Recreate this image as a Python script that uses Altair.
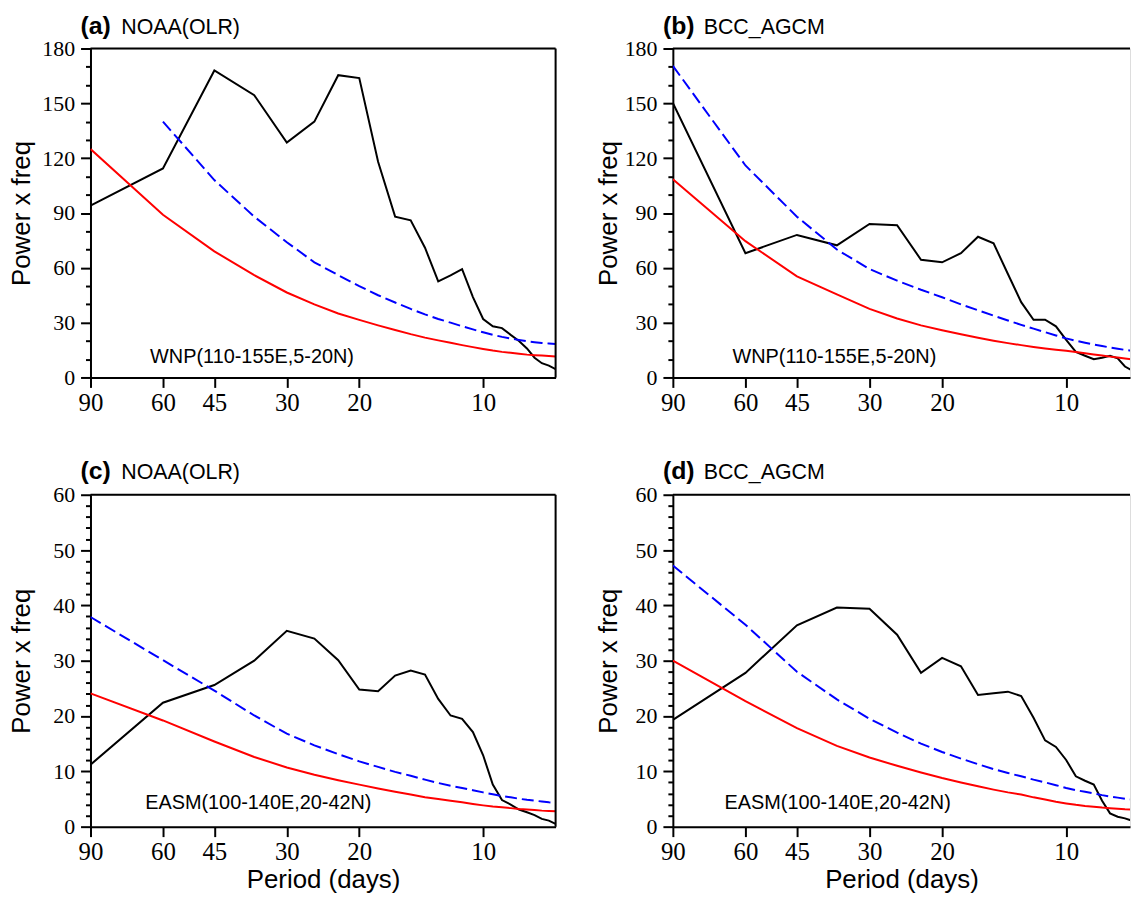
import altair as alt
import pandas as pd

# ---------------- data ----------------
PERIODS = [90, 60, 45, 36, 30, 25.714, 22.5, 20, 18, 16.364, 15, 13.846, 12.857,
           12, 11.25, 10.588, 10, 9.474, 9, 8.571, 8.182, 7.826, 7.5, 7.2, 6.923, 6.667]
X_TICKS = [90, 60, 45, 30, 20, 10]
Y_TICKS_WNP = [0, 10, 20, 30, 40, 50, 60, 70, 80, 90, 100, 110, 120, 130, 140, 150, 160, 170, 180]
Y_TICKS_EASM = [0, 2, 4, 6, 8, 10, 12, 14, 16, 18, 20, 22, 24, 26, 28, 30, 32, 34, 36, 38,
                40, 42, 44, 46, 48, 50, 52, 54, 56, 58, 60]

LETTERS = ["(a)", "(b)", "(c)", "(d)"]
MODELS = ["NOAA(OLR)", "BCC_AGCM", "NOAA(OLR)", "BCC_AGCM"]
REGIONS = ["WNP(110-155E,5-20N)", "WNP(110-155E,5-20N)",
           "EASM(100-140E,20-42N)", "EASM(100-140E,20-42N)"]

# (a) NOAA(OLR) WNP
A_SPEC = [94, 114.4, 168, 154.5, 128.5, 140, 165.4, 163.8, 118, 88, 86, 71, 52.6,
          55.8, 59.3, 44, 32, 28, 27, 23.3, 20, 15.9, 10.8, 7.8, 6.5, 4.5]
A_RED = [125, 89, 69, 56, 46.5, 40, 35, 31.5, 28.5, 26, 23.7, 21.8, 20.3,
         19, 17.7, 16.6, 15.6, 14.7, 14.0, 13.5, 13, 12.5, 12.2, 12.0, 11.8, 11.5]
A_SIG_PERIODS = [60, 45, 36, 30, 25.714, 22.5, 20, 18, 16.364, 15, 13.846, 12.857,
                 12, 11.25, 10.588, 10, 9.474, 9, 8.571, 8.182, 7.826, 7.5, 7.2, 6.923, 6.667]
A_SIG = [140, 108, 88, 74, 63, 56, 50, 45, 41, 37.5, 34.5, 32,
         30, 28, 26.3, 24.7, 23.3, 22.2, 21.3, 20.5, 19.8, 19.3, 18.9, 18.6, 18.3]

# (b) BCC_AGCM WNP
B_SPEC = [150.2, 68, 78, 72.3, 84, 83.3, 64.4, 63, 68, 77, 73.4, 56.6, 41.2,
          31.6, 31.6, 28, 20.6, 14, 11.9, 10, 10.8, 11.9, 10.5, 6, 3.8, 2.5]
B_RED = [108.5, 74.6, 55.3, 45.5, 37.5, 32.3, 28.5, 25.8, 23.6, 21.7, 20.1, 18.8, 17.7,
         16.7, 15.9, 15.2, 14.6, 13.9, 13.2, 12.6, 12.0, 11.4, 10.9, 10.4, 9.9, 9.5]
B_SIG = [170.5, 116, 88, 70, 59.3, 53, 48, 43.9, 40, 36.8, 33.8, 31.2, 28.8,
         26.7, 24.8, 23.0, 21.4, 20.1, 19.0, 18.0, 17.2, 16.4, 15.7, 15.1, 14.6, 14.2]

# (c) NOAA(OLR) EASM
C_SPEC = [11.2, 22.4, 25.6, 30.0, 35.4, 34.0, 30.1, 24.8, 24.5, 27.3, 28.2, 27.5, 23.1,
          20.1, 19.5, 17.1, 12.9, 7.6, 4.8, 4.0, 3.1, 2.6, 2.1, 1.4, 1.1, 0.5]
C_RED = [24.1, 19.2, 15.4, 12.6, 10.7, 9.4, 8.4, 7.6, 6.9, 6.3, 5.8, 5.3, 5.0,
         4.7, 4.4, 4.1, 3.85, 3.65, 3.5, 3.35, 3.2, 3.1, 3.0, 2.9, 2.85, 2.8]
C_SIG = [37.9, 30.1, 24.6, 20.1, 16.8, 14.7, 13.1, 11.8, 10.8, 9.9, 9.2, 8.5, 7.9,
         7.4, 7.0, 6.6, 6.2, 5.85, 5.55, 5.3, 5.05, 4.85, 4.7, 4.55, 4.4, 4.3]

# (d) BCC_AGCM EASM
D_SPEC = [19.3, 27.8, 36.4, 39.6, 39.4, 34.7, 27.8, 30.5, 29.0, 23.8, 24.1, 24.4, 23.6,
          19.7, 15.6, 14.4, 12.05, 9.1, 8.3, 7.6, 4.7, 2.4, 1.8, 1.5, 1.07, 0.8]
D_RED = [30.0, 22.7, 17.8, 14.6, 12.5, 11.0, 9.8, 8.8, 8.0, 7.3, 6.7, 6.2, 5.8,
         5.3, 4.9, 4.5, 4.2, 3.95, 3.75, 3.6, 3.45, 3.35, 3.25, 3.15, 3.1, 3.0]
D_SIG = [47.2, 36.5, 28.0, 23.0, 19.5, 17.0, 15.0, 13.5, 12.3, 11.3, 10.4, 9.7, 9.1,
         8.5, 8.0, 7.5, 7.0, 6.6, 6.3, 6.0, 5.7, 5.45, 5.25, 5.05, 4.9, 4.75]

SANS = "Liberation Sans"
SERIF = "Liberation Serif"


def panel(i, spec, red, sig_periods, sig, ymax, yticks, major, width, height, xmin,
          ytitle_x, title_dy, note_dx, note_dy, xtitle, right_border):
    main = pd.DataFrame({"period": PERIODS, "spec": spec, "red": red})
    sdf = pd.DataFrame({"period": sig_periods, "sig": sig})
    xs = alt.Scale(type="log", domain=[xmin, 90], reverse=True, nice=False)
    ys = alt.Scale(domain=[0, ymax], nice=False, zero=True)

    xkw = dict(values=X_TICKS, format="d", labelFont=SERIF, labelFontSize=25,
               labelColor="black", labelPadding=3, labelFlush=False, tickSize=10,
               tickColor="black", tickWidth=2, domainColor="black", domainWidth=2,
               grid=False, labelOverlap=False)
    if xtitle:
        xkw.update(title="Period (days)", titleFont=SANS, titleFontSize=26,
                   titleFontWeight="normal", titleColor="black", titleX=width / 2,
                   titleY=61, titleAlign="center", titleBaseline="alphabetic")
    else:
        xkw.update(title=None)
    xaxis = alt.Axis(**xkw)
    yaxis = alt.Axis(
        values=yticks,
        labelExpr=f"datum.value % {major} === 0 ? datum.label : ''",
        tickSize={"condition": {"test": f"datum.value % {major} === 0", "value": 10}, "value": 5},
        labelFont=SERIF, labelFontSize=22, labelColor="black", labelPadding=6,
        labelOverlap=False, tickColor="black", tickWidth=2, domainColor="black",
        domainWidth=2, grid=False,
        title="Power x freq", titleFont=SANS, titleFontSize=26, titleFontWeight="normal",
        titleColor="black", titleX=ytitle_x, titleY=height / 2, titleAngle=270,
        titleAlign="center", titleBaseline="alphabetic")

    black = alt.Chart(main).mark_line(color="black", strokeWidth=2, clip=True).encode(
        x=alt.X("period:Q", scale=xs, axis=xaxis),
        y=alt.Y("spec:Q", scale=ys, axis=yaxis))
    redl = alt.Chart(main).mark_line(color="#ff0000", strokeWidth=2, clip=True).encode(
        x=alt.X("period:Q", scale=xs, axis=xaxis),
        y=alt.Y("red:Q", scale=ys, axis=yaxis))
    blue = alt.Chart(sdf).mark_line(color="#0000ff", strokeWidth=2, strokeDash=[12, 5],
                                    clip=True).encode(
        x=alt.X("period:Q", scale=xs, axis=xaxis),
        y=alt.Y("sig:Q", scale=ys, axis=yaxis))

    letter = alt.Chart(pd.DataFrame({"t": [LETTERS[i]]})).mark_text(
        align="left", baseline="alphabetic", font=SANS, fontSize=25, fontWeight="bold",
        color="black").encode(x=alt.value(-10), y=alt.value(title_dy), text="t:N")
    model = alt.Chart(pd.DataFrame({"t": [MODELS[i]]})).mark_text(
        align="left", baseline="alphabetic", font=SANS, fontSize=21.5, color="black").encode(
        x=alt.value(31), y=alt.value(title_dy), text="t:N")
    note = alt.Chart(pd.DataFrame({"t": [REGIONS[i]]})).mark_text(
        align="left", baseline="alphabetic", font=SANS, fontSize=20, color="black").encode(
        x=alt.value(note_dx), y=alt.value(height - note_dy), text="t:N")
    top = alt.Chart(pd.DataFrame({"t": [0]})).mark_rule(color="black", strokeWidth=2).encode(
        x=alt.value(0), x2=alt.value(width), y=alt.value(0))
    layers = [black, redl, blue, letter, model, note, top]
    if right_border:
        right = alt.Chart(pd.DataFrame({"t": [0]})).mark_rule(color="black", strokeWidth=2).encode(
            x=alt.value(width), y=alt.value(0), y2=alt.value(height))
        layers.append(right)
    return alt.layer(*layers).properties(width=width, height=height)


W_LEFT, W_RIGHT = 468, 460
H1, H2 = 331, 334
pa = panel(0, A_SPEC, A_RED, A_SIG_PERIODS, A_SIG, 180, Y_TICKS_WNP, 30, W_LEFT, H1, 6.667,
           -61, -15, 60, 15, False, True)
pb = panel(1, B_SPEC, B_RED, PERIODS, B_SIG, 180, Y_TICKS_WNP, 30, W_RIGHT, H1, 7.0,
           -57, -15, 60, 15, False, False)
pc = panel(2, C_SPEC, C_RED, PERIODS, C_SIG, 60, Y_TICKS_EASM, 10, W_LEFT, H2, 6.667,
           -61, -16, 55, 18, True, True)
pd_ = panel(3, D_SPEC, D_RED, PERIODS, D_SIG, 60, Y_TICKS_EASM, 10, W_RIGHT, H2, 7.0,
            -57, -16, 52, 18, True, False)

chart = alt.concat(pa, pb, pc, pd_, columns=2, bounds="flush",
                   spacing={"row": 118, "column": 118}).properties(
    padding={"left": 0, "top": 2, "right": 0, "bottom": 0}
).configure_view(stroke=None).configure(background="white")

chart.save("out.html", embed_options={"renderer": "svg", "actions": False})
